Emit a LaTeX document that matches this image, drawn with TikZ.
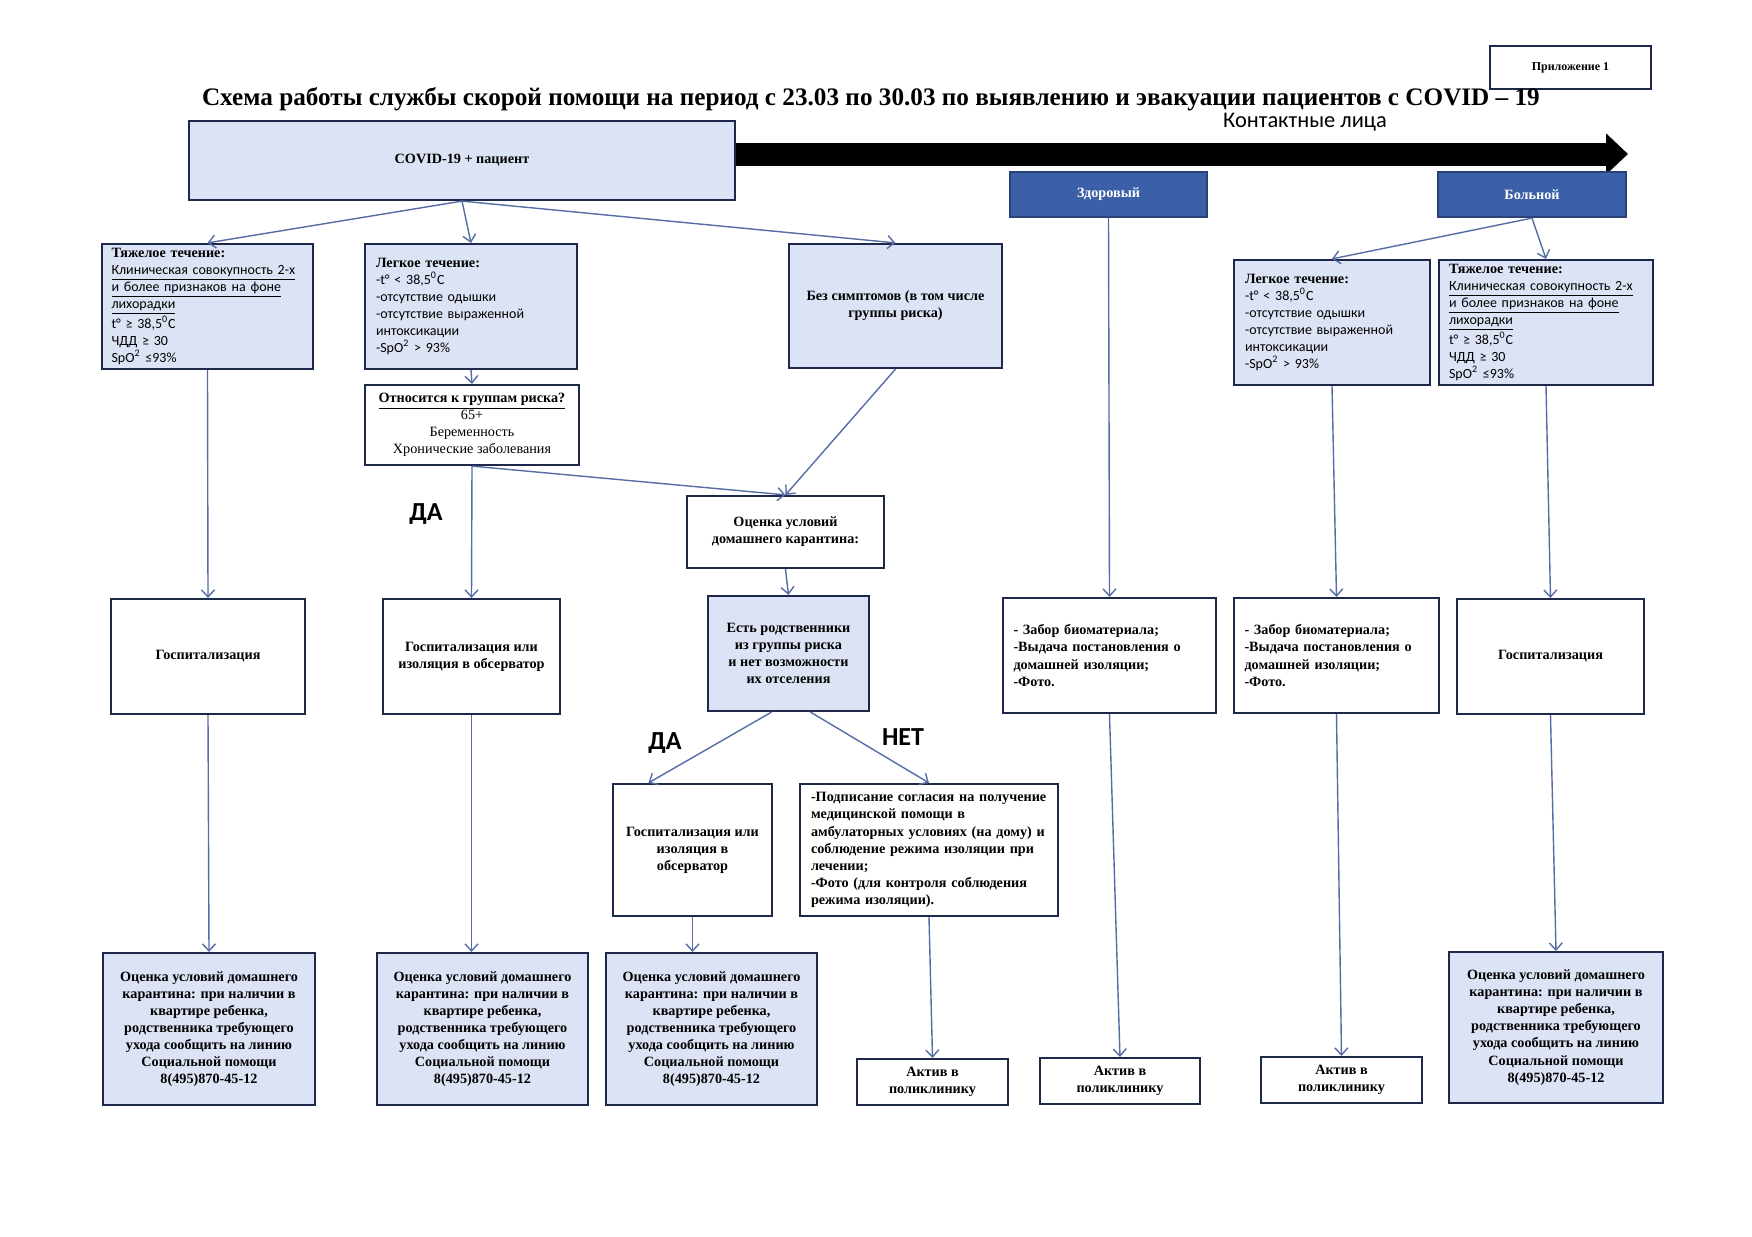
\documentclass[tikz,border=0pt]{standalone}
\usepackage{fontspec}
\setmainfont{Liberation Serif}
\newfontfamily\calib{Carlito}
\usetikzlibrary{arrows.meta}
\definecolor{lb}{RGB}{220,227,245}
\definecolor{bordc}{RGB}{30,40,75}
\definecolor{arrc}{RGB}{85,108,165}
\definecolor{darkb}{RGB}{60,96,168}
\newcommand\fsb{\fontsize{7.1}{8.55}\selectfont\bfseries}
\newcommand\fss{\calib\mdseries\fontsize{7}{8.5}\selectfont}
\tikzset{
  rect/.style args={#1,#2,#3,#4}{minimum width={(#3-#1)*0.5pt}, minimum height={(#4-#2)*0.5pt}, at={({(#1+#3)/2},{(#2+#4)/2})}},
  box/.style={draw=bordc, line width=1.1pt, inner sep=0pt, fill=lb, font=\fsb, align=center},
  wbox/.style={box, fill=white},
  dbox/.style={box, fill=darkb, text=white, draw=darkb!70!black},
  lbox/.style={align=left, text width=#1},
  lbl/.style={font=\calib\fontsize{13}{15}\selectfont\bfseries},
  conn/.style={draw=arrc, line width=0.7pt, -{Straight Barb[length=3.5pt,width=6.5pt]}}
}
\begin{document}
\begin{tikzpicture}[x=0.5pt,y=-0.5pt]
\useasboundingbox (0,0) rectangle (1752,1237);
\fill[white] (0,0) rectangle (1752,1237);

\node[wbox, rect={1490,46,1651,89}, font=\fontsize{6}{7}\selectfont\bfseries] (pril) {Приложение 1};
\node[font=\fontsize{12.6}{14}\selectfont\bfseries] (title) at (871,99) {Схема работы службы скорой помощи на период с 23.03 по 30.03 по выявлению и эвакуации пациентов с COVID – 19};
\node[font=\calib\fontsize{11.2}{13}\selectfont] (kont) at (1305,122) {Контактные лица};

\coordinate (arrtip) at (1628,154);
\node[box, rect={189,121,735,200}] (covid) {COVID-19 + пациент};
\draw[line width=11.5pt, -{Triangle[length=11pt,width=20pt]}] (covid.east |- arrtip) -- (arrtip);

\node[dbox, rect={1010,172,1207,217}] (zdor) {Здоровый};
\node[dbox, rect={1438,172,1626,217}] (boln) {Больной};

\node[box, rect={102,244,313,369}, lbox=96pt] (tyazh1) {Тяжелое течение:\\\fss\underline{Клиническая совокупность 2-х}\\\underline{и более признаков на фоне}\\\underline{лихорадки}\\t° ≥ 38,5\textsuperscript{0}C\\ЧДД ≥ 30\\SpO\textsuperscript{2} ≤93\%};
\node[box, rect={365,244,577,369}, lbox=95pt] (leg1) {Легкое течение:\\\fss -t° < 38,5\textsuperscript{0}C\\-отсутствие одышки\\-отсутствие выраженной\\интоксикации\\-SpO\textsuperscript{2} > 93\%};
\node[box, rect={789,244,1002,368}] (bez) {Без симптомов (в том числе\\группы риска)};
\node[box, rect={1234,260,1430,385}, lbox=87pt] (leg2) {Легкое течение:\\\fss -t° < 38,5\textsuperscript{0}C\\-отсутствие одышки\\-отсутствие выраженной\\интоксикации\\-SpO\textsuperscript{2} > 93\%};
\node[box, rect={1439,260,1653,385}, lbox=97pt] (tyazh2) {Тяжелое течение:\\\fss\underline{Клиническая совокупность 2-х}\\\underline{и более признаков на фоне}\\\underline{лихорадки}\\t° ≥ 38,5\textsuperscript{0}C\\ЧДД ≥ 30\\SpO\textsuperscript{2} ≤93\%};

\node[wbox, rect={365,385,579,465}, font=\fontsize{7.1}{8.6}\selectfont] (risk) {{\bfseries\underline{Относится к группам риска?}}\\65+\\Беременность\\Хронические заболевания};
\node[wbox, rect={687,496,884,568}] (ocq) {Оценка условий\\домашнего карантина:};
\node[box, rect={708,596,869,711}] (est) {Есть родственники\\из группы риска\\и нет возможности\\их отселения};

\node[wbox, rect={111,599,305,714}] (gosp1) {Госпитализация};
\node[wbox, rect={383,599,560,714}] (gosp2) {Госпитализация или\\изоляция в обсерватор};
\node[wbox, rect={1003,598,1216,713}, lbox=96pt] (zab1) {- Забор биоматериала;\\-Выдача постановления о\\домашней изоляции;\\-Фото.};
\node[wbox, rect={1234,598,1439,713}, lbox=92pt] (zab2) {- Забор биоматериала;\\-Выдача постановления о\\домашней изоляции;\\-Фото.};
\node[wbox, rect={1457,599,1644,714}] (gosp3) {Госпитализация};

\node[wbox, rect={613,784,772,916}] (gosp4) {Госпитализация или\\изоляция в\\обсерватор};
\node[wbox, rect={800,784,1058,916}, lbox=118pt] (podp) {-Подписание согласия на получение\\медицинской помощи в\\амбулаторных условиях (на дому) и\\соблюдение режима изоляции при\\лечении;\\-Фото (для контроля соблюдения\\режима изоляции).};

\node[box, rect={103,953,315,1105}] (oc1) {Оценка условий домашнего\\карантина: при наличии в\\квартире ребенка,\\родственника требующего\\ухода сообщить на линию\\Социальной помощи\\8(495)870-45-12};
\node[box, rect={377,953,588,1105}] (oc2) {Оценка условий домашнего\\карантина: при наличии в\\квартире ребенка,\\родственника требующего\\ухода сообщить на линию\\Социальной помощи\\8(495)870-45-12};
\node[box, rect={606,953,817,1105}] (oc3) {Оценка условий домашнего\\карантина: при наличии в\\квартире ребенка,\\родственника требующего\\ухода сообщить на линию\\Социальной помощи\\8(495)870-45-12};
\node[box, rect={1449,952,1663,1103}] (oc4) {Оценка условий домашнего\\карантина: при наличии в\\квартире ребенка,\\родственника требующего\\ухода сообщить на линию\\Социальной помощи\\8(495)870-45-12};

\node[wbox, rect={857,1059,1008,1105}] (akt1) {Актив в\\поликлинику};
\node[wbox, rect={1040,1058,1200,1104}] (akt2) {Актив в\\поликлинику};
\node[wbox, rect={1261,1057,1422,1103}] (akt3) {Актив в\\поликлинику};

\node[lbl] (da1) at (426,514) {ДА};
\node[lbl] (da2) at (665,743) {ДА};
\node[lbl] (net) at (903,737) {НЕТ};

\draw[conn] (covid.south) -- (tyazh1.north);
\draw[conn] (covid.south) -- (leg1.north);
\draw[conn] (covid.south) -- (bez.north);
\draw[conn] (leg1.south) -- (risk.north);
\draw[conn] (risk.south) -- (ocq.north);
\draw[conn] (bez.south) -- (ocq.north);
\draw[conn] (risk.south) -- (gosp2.north);
\draw[conn] (tyazh1.south) -- (gosp1.north);
\draw[conn] (ocq.south) -- (est.north);
\draw[conn] ([xshift=-8.5pt]est.south) -- ([xshift=-22pt]gosp4.north);
\draw[conn] ([xshift=11pt]est.south) -- (podp.north);
\draw[conn] (gosp1.south) -- (oc1.north);
\draw[conn] (gosp2.south) -- (gosp2.south |- oc2.north);
\draw[conn] (gosp4.south) -- (gosp4.south |- oc3.north);
\draw[conn] (podp.south) -- (akt1.north);
\draw[conn] (zdor.south) -- (zab1.north);
\draw[conn] (zab1.south) -- (akt2.north);
\draw[conn] (boln.south) -- (leg2.north);
\draw[conn] (boln.south) -- (tyazh2.north);
\draw[conn] (leg2.south) -- (zab2.north);
\draw[conn] (tyazh2.south) -- (gosp3.north);
\draw[conn] (zab2.south) -- (akt3.north);
\draw[conn] (gosp3.south) -- (oc4.north);
\end{tikzpicture}
\end{document}
